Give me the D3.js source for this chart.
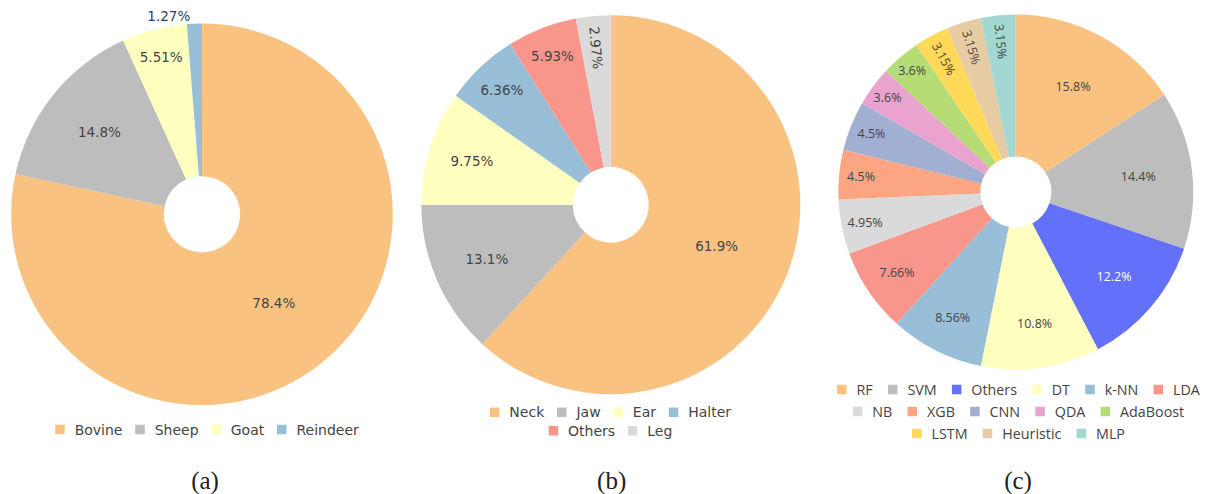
<!DOCTYPE html>
<html><head><meta charset="utf-8">
<script src="https://cdn.jsdelivr.net/npm/d3@7"></script>
<style>html,body{margin:0;padding:0;background:#fff;overflow:hidden}</style>
</head><body>
<svg id="chart" width="1205" height="494"></svg>
<script>
// ---- data ----
const categoriesA = ["Bovine", "Sheep", "Goat", "Reindeer"];
const countsA = [185, 35, 13, 3];
const categoriesB = ["Neck", "Jaw", "Ear", "Halter", "Others", "Leg"];
const countsB = [146, 31, 23, 15, 14, 7];
const categoriesC = ["RF", "SVM", "Others", "DT", "k-NN", "LDA", "NB", "XGB", "CNN", "QDA", "AdaBoost", "LSTM", "Heuristic", "MLP"];
const countsC = [35, 32, 27, 24, 19, 17, 11, 10, 10, 8, 8, 7, 7, 7];
const captions = ["(a)", "(b)", "(c)"];

// ---- colours ----
const colorsA = ["#F9C280", "#BDBDBD", "#FFFFC0", "#98BFD7"];
const colorsB = ["#F9C280", "#BDBDBD", "#FFFFC0", "#98BFD7", "#F9968B", "#DADADA"];
const colorsC = ["#F9C280", "#BDBDBD", "#6370FA", "#FFFFC0", "#98BFD7", "#F9968B", "#DADADA",
                 "#FBA583", "#A1AFD3", "#EAA2CE", "#B6DC75", "#FFD957", "#E6CBA3", "#A2D8D2"];

const panels = [
  {cats: categoriesA, vals: countsA, colors: colorsA, cx: 202, cy: 214.3, r: 190.8,
   font: "'DejaVu Sans', Verdana, sans-serif", labelSize: 13.5, legendSize: 14,
   legendCx: 207, legendY: 429.5, legendDy: 19, legendMaxW: 400, itemGap: 17.5, capX: 205},
  {cats: categoriesB, vals: countsB, colors: colorsB, cx: 610.8, cy: 204.7, r: 189.5,
   font: "'DejaVu Sans', Verdana, sans-serif", labelSize: 13.5, legendSize: 14,
   legendCx: 610.5, legendY: 412.3, legendDy: 18.5, legendMaxW: 300, itemGap: 17.5, capX: 611.7},
  {cats: categoriesC, vals: countsC, colors: colorsC, cx: 1015.8, cy: 192, r: 177.5,
   font: "'Open Sans', sans-serif", labelSize: 12.5, legendSize: 14.3,
   legendCx: 1018.5, legendY: 389.5, legendDy: 22, legendMaxW: 375, itemGap: 20, capX: 1018}
];

const HOLE = 0.2, RING = 1 - HOLE, TEXTPAD = 3;
const fmt = d3.format(".3~r");
const svg = d3.select("#chart");

function contrast(c) {
  const rgb = d3.rgb(c);
  const br = (rgb.r * 299 + rgb.g * 587 + rgb.b * 114) / 1000;
  return br >= 128 ? "#444" : "#fff";
}
function calcMaxHalfSize(a, halfAngle, r, ring) {
  const q = a + 1 / (2 * Math.tan(halfAngle));
  return r * Math.min(1 / (Math.sqrt(q * q + 0.5) + q), ring / (Math.sqrt(a * a + ring / 2) + a));
}
function calcRotate(t) { return (180 / Math.PI * t + 720) % 180 - 90; }
function calcRad(bb, r, ring, half, mid) {
  r = Math.max(0, r - 2 * TEXTPAD);
  const a = bb.width / bb.height;
  const s = calcMaxHalfSize(a, half, r, ring);
  return {scale: s * 2 / bb.height, rCenter: Math.cos(s / r) - a * s / r, rotate: calcRotate(mid)};
}
function calcTan(bb, r, ring, half, mid) {
  r = Math.max(0, r - 2 * TEXTPAD);
  const a = bb.height / bb.width;
  const s = calcMaxHalfSize(a, half, r, ring);
  return {scale: s * 2 / bb.width, rCenter: Math.cos(s / r) - a * s / r, rotate: calcRotate(mid + Math.PI / 2)};
}
function insideTransform(bb, half, mid, r) {
  const rIns = Math.min(1 / (1 + 1 / Math.sin(half)), RING / 2);
  const diam = Math.hypot(bb.width, bb.height);
  const h = {scale: rIns * r * 2 / diam, rCenter: 1 - rIns, rotate: 0};
  if (h.scale >= 1) return h;
  const all = [h, calcRad(bb, r, RING, half, mid), calcTan(bb, r, RING, half, mid)];
  let best = all[0];
  all.forEach(t => { if (t.scale > best.scale) best = t; });
  return best;
}

panels.forEach((p, pi) => {
  const total = d3.sum(p.vals);
  const color = d3.scaleOrdinal().domain(p.cats).range(p.colors);
  const pie = d3.pie().sort(null).value(d => d.v).startAngle(0).endAngle(2 * Math.PI);
  const arcs = pie(p.cats.map((c, i) => ({c, v: p.vals[i]})));
  const arc = d3.arc().innerRadius(p.r * HOLE).outerRadius(p.r);

  const g = svg.append("g").attr("transform", `translate(${p.cx},${p.cy})`);
  g.selectAll("path.slice").data(arcs).join("path")
    .attr("class", "slice")
    .attr("d", arc)
    .attr("fill", d => color(d.data.c));

  // labels (plotly-like placement)
  arcs.forEach(d => {
    const frac = d.data.v / total;
    const txt = fmt(frac * 100) + "%";
    const mid = (d.startAngle + d.endAngle) / 2;
    const half = Math.PI * Math.min(frac, 0.5);
    const t = g.append("text")
      .attr("text-anchor", "middle")
      .attr("font-family", p.font)
      .attr("font-size", p.labelSize)
      .text(txt);
    let bb = t.node().getBBox();
    let tr = insideTransform(bb, half, mid, p.r);
    const px = p.r * Math.sin(mid), py = -p.r * Math.cos(mid);
    let tx, ty;
    if (tr.scale < 1) {
      // outside
      t.attr("fill", "#2a3f5f");
      let dx = bb.width / 2, dy = bb.height / 2;
      if (px < 0) dx *= -1;
      if (py < 0) dy *= -1;
      const ox = dx + Math.abs(dy) * (dx > 0 ? 1 : -1) / 2;
      const oy = dy / (1 + px * px / (py * py));
      tr = {scale: 1, rotate: 0, rCenter: 1};
      tx = px + ox; ty = py + oy;
    } else {
      t.attr("fill", contrast(color(d.data.c)));
      tx = px * tr.rCenter; ty = py * tr.rCenter;
    }
    const s = Math.min(1, tr.scale);
    const c0x = bb.x + bb.width / 2, c0y = bb.y + bb.height / 2;
    t.attr("transform", `translate(${tx},${ty}) rotate(${tr.rotate}) scale(${s}) translate(${-c0x},${-c0y})`);
  });

  // legend
  const lg = svg.append("g");
  const items = p.cats.map((c, i) => {
    const ig = lg.append("g");
    ig.append("rect").attr("x", -4.75).attr("y", -4.75).attr("width", 9.5).attr("height", 9.5)
      .attr("fill", color(c));
    const tt = ig.append("text").attr("x", 14.7).attr("dy", "0.36em")
      .attr("font-family", p.font).attr("font-size", p.legendSize).attr("fill", "#444").text(c);
    return {g: ig, w: tt.node().getComputedTextLength()};
  });
  const rows = [];
  let cur = [], curW = 0;
  items.forEach(it => {
    const add = (cur.length ? p.itemGap : 4.75) + 14.7 + it.w;
    if (cur.length && curW + add > p.legendMaxW) {
      rows.push({items: cur, w: curW});
      cur = []; curW = 0;
    }
    curW += (cur.length ? p.itemGap : 4.75) + 14.7 + it.w;
    cur.push(it);
  });
  if (cur.length) rows.push({items: cur, w: curW});
  rows.forEach((row, ri) => {
    let x = p.legendCx - row.w / 2 + 4.75;
    const y = p.legendY + ri * p.legendDy;
    row.items.forEach(it => {
      it.g.attr("transform", `translate(${x},${y})`);
      x += 14.7 + it.w + p.itemGap;
    });
  });

  // caption
  svg.append("text").attr("x", p.capX).attr("y", 489).attr("text-anchor", "middle")
    .attr("font-family", "'Liberation Serif', 'Times New Roman', serif").attr("font-size", 25)
    .attr("fill", "#222").text(captions[pi]);
});
</script>
</body></html>
